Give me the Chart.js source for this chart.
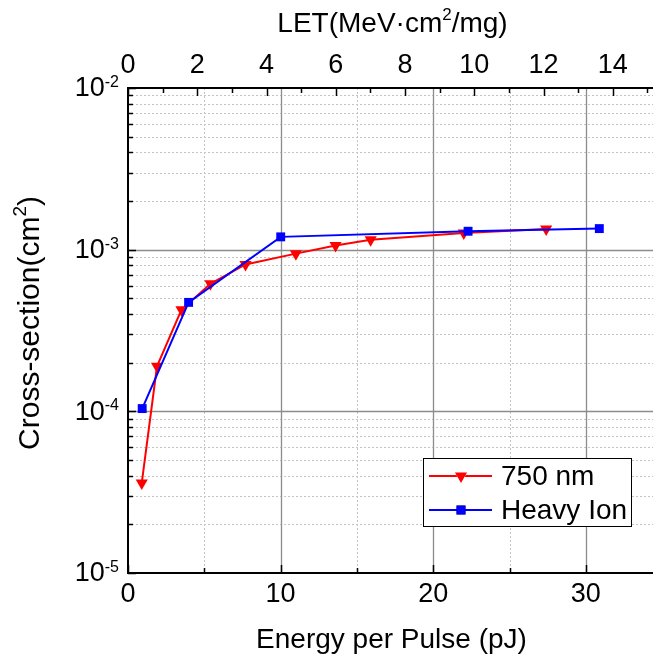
<!DOCTYPE html>
<html>
<head>
<meta charset="utf-8">
<script src="https://cdn.jsdelivr.net/npm/chart.js@4/dist/chart.umd.min.js"></script>
<style>
  html, body { margin: 0; padding: 0; background: #ffffff; }
  #wrap { width: 660px; height: 658px; position: relative; }
</style>
</head>
<body>
<div id="wrap"><canvas id="chart" width="660" height="658"></canvas></div>
<script>
// 750 nm laser: cross-section vs energy per pulse (pJ)
const laserEnergy = [0.9, 1.9, 3.5, 5.4, 7.7, 11.0, 13.6, 15.9, 22.0, 27.4];
const laserSigma  = [3.6e-5, 1.9e-4, 4.25e-4, 6.15e-4, 8.1e-4, 9.45e-4, 1.06e-3, 1.15e-3, 1.27e-3, 1.34e-3];

// Heavy ion: cross-section vs LET (MeV·cm²/mg)
const ionLET   = [0.41, 1.75, 4.41, 9.82, 13.61];
const ionSigma = [1.04e-4, 4.72e-4, 1.2e-3, 1.30e-3, 1.35e-3];

// Axis ranges and tick values
const energyRange = [0, 34.4];
const letRange    = [0, 15.16];
const sigmaRange  = [1e-5, 1e-2];
const energyLabels = [0, 10, 20, 30];
const energyMinor  = [5, 15, 25];
const letLabels    = [0, 2, 4, 6, 8, 10, 12, 14];
const letMinor     = [1, 3, 5, 7, 9, 11, 13, 15];
const decadeExps   = [-5, -4, -3, -2];

const FONT = '"Liberation Sans", Arial, Helvetica, sans-serif';
const RED = '#ff0000';
const BLUE = '#0000ff';

function font(px) { return px + 'px ' + FONT; }

// Draws text made of plain and superscript runs, centred on (cx, cy)
function richText(ctx, runs, cx, cy, size, angle) {
  const supSize = Math.round(size * 0.62);
  let total = 0;
  runs.forEach(r => {
    ctx.font = font(r.sup ? supSize : size);
    r.w = ctx.measureText(r.t).width;
    total += r.w;
  });
  ctx.save();
  ctx.translate(cx, cy);
  if (angle) ctx.rotate(angle);
  ctx.fillStyle = '#000';
  ctx.textBaseline = 'alphabetic';
  ctx.textAlign = 'left';
  let x = -total / 2;
  const base = size * 0.36;
  runs.forEach(r => {
    ctx.font = font(r.sup ? supSize : size);
    ctx.fillText(r.t, x, r.sup ? base - size * 0.42 : base);
    x += r.w;
  });
  ctx.restore();
}

const frame = {
  id: 'frame',
  beforeDatasetsDraw(chart) {
    const { ctx, chartArea: a, scales } = chart;
    const x = scales.x, y = scales.y;
    ctx.save();
    // minor dotted grid
    ctx.strokeStyle = '#c4c4c4';
    ctx.lineWidth = 1;
    ctx.setLineDash([2, 2]);
    ctx.beginPath();
    energyMinor.forEach(v => {
      const px = Math.round(x.getPixelForValue(v)) + 0.5;
      ctx.moveTo(px, a.top); ctx.lineTo(px, a.bottom);
    });
    decadeExps.slice(0, -1).forEach(e => {
      for (let m = 2; m <= 9; m++) {
        const py = Math.round(y.getPixelForValue(m * Math.pow(10, e))) + 0.5;
        ctx.moveTo(a.left, py); ctx.lineTo(a.right, py);
      }
    });
    ctx.stroke();
    // major solid grid
    ctx.setLineDash([]);
    ctx.strokeStyle = '#8c8c8c';
    ctx.lineWidth = 1.3;
    ctx.beginPath();
    energyLabels.slice(1).forEach(v => {
      const px = Math.round(x.getPixelForValue(v)) + 0.5;
      ctx.moveTo(px, a.top); ctx.lineTo(px, a.bottom);
    });
    decadeExps.slice(1, -1).forEach(e => {
      const py = Math.round(y.getPixelForValue(Math.pow(10, e))) + 0.5;
      ctx.moveTo(a.left, py); ctx.lineTo(a.right, py);
    });
    ctx.stroke();
    ctx.restore();
  },
  afterDatasetsDraw(chart) {
    const { ctx, chartArea: a, scales } = chart;
    const x = scales.x, x2 = scales.x2, y = scales.y;
    ctx.save();
    ctx.strokeStyle = '#000';
    ctx.lineWidth = 1.5;
    ctx.beginPath();
    // inward ticks: bottom (energy)
    energyLabels.forEach(v => {
      const px = Math.round(x.getPixelForValue(v)) + 0.5;
      ctx.moveTo(px, a.bottom); ctx.lineTo(px, a.bottom - 8);
    });
    energyMinor.forEach(v => {
      const px = Math.round(x.getPixelForValue(v)) + 0.5;
      ctx.moveTo(px, a.bottom); ctx.lineTo(px, a.bottom - 5);
    });
    // top (LET)
    letLabels.forEach(v => {
      const px = Math.round(x2.getPixelForValue(v)) + 0.5;
      ctx.moveTo(px, a.top); ctx.lineTo(px, a.top + 8);
    });
    letMinor.forEach(v => {
      const px = Math.round(x2.getPixelForValue(v)) + 0.5;
      ctx.moveTo(px, a.top); ctx.lineTo(px, a.top + 5);
    });
    // left (cross-section)
    decadeExps.forEach((e, i) => {
      const py = Math.round(y.getPixelForValue(Math.pow(10, e))) + 0.5;
      ctx.moveTo(a.left, py); ctx.lineTo(a.left + 8, py);
      if (i < decadeExps.length - 1) {
        for (let m = 2; m <= 9; m++) {
          const pm = Math.round(y.getPixelForValue(m * Math.pow(10, e))) + 0.5;
          ctx.moveTo(a.left, pm); ctx.lineTo(a.left + 5, pm);
        }
      }
    });
    ctx.stroke();
    // axis lines
    ctx.lineWidth = 2;
    ctx.beginPath();
    ctx.moveTo(a.left, a.top); ctx.lineTo(a.right, a.top);
    ctx.moveTo(a.left, a.top - 1); ctx.lineTo(a.left, a.bottom + 1);
    ctx.moveTo(a.left - 1, a.bottom); ctx.lineTo(a.right, a.bottom);
    ctx.stroke();
    ctx.restore();
  },
  afterDraw(chart) {
    const { ctx, chartArea: a, scales } = chart;
    const x = scales.x, x2 = scales.x2, y = scales.y;
    ctx.save();
    ctx.fillStyle = '#000';
    ctx.font = font(27);
    ctx.textAlign = 'center';
    ctx.textBaseline = 'middle';
    energyLabels.forEach(v => ctx.fillText(String(v), x.getPixelForValue(v), a.bottom + 22));
    letLabels.forEach(v => ctx.fillText(String(v), x2.getPixelForValue(v), a.top - 22));
    // decade labels 10^n
    decadeExps.forEach(e => {
      const py = y.getPixelForValue(Math.pow(10, e));
      ctx.font = font(16);
      ctx.textAlign = 'right';
      ctx.textBaseline = 'alphabetic';
      const sup = '-' + Math.abs(e);
      ctx.fillText(sup, a.left - 9, py - 1);
      const sw = ctx.measureText(sup).width;
      ctx.font = font(27);
      ctx.textBaseline = 'middle';
      ctx.fillText('10', a.left - 9 - sw, py + 1);
    });
    ctx.restore();

    // axis titles
    const cx = (a.left + a.right) / 2;
    richText(ctx, [{ t: 'Energy per Pulse (pJ)' }], cx + 1, 638, 28);
    richText(ctx, [{ t: 'LET(MeV\u00b7cm' }, { t: '2', sup: true }, { t: '/mg)' }], cx + 2, 22, 28);
    richText(ctx, [{ t: 'Cross-section(cm' }, { t: '2', sup: true }, { t: ')' }], 28, 323, 30, -Math.PI / 2);

    // legend
    const box = { l: 423, t: 458, r: 631, b: 526 };
    ctx.save();
    ctx.fillStyle = '#fff';
    ctx.fillRect(box.l, box.t, box.r - box.l, box.b - box.t);
    ctx.strokeStyle = '#000';
    ctx.lineWidth = 1;
    ctx.strokeRect(box.l + 0.5, box.t + 0.5, box.r - box.l, box.b - box.t);
    const rows = [
      { ds: chart.data.datasets[1], y: 476 },
      { ds: chart.data.datasets[0], y: 510 }
    ];
    rows.forEach(row => {
      const ds = row.ds;
      ctx.strokeStyle = ds.borderColor;
      ctx.lineWidth = ds.borderWidth;
      ctx.beginPath();
      ctx.moveTo(429, row.y); ctx.lineTo(492, row.y);
      ctx.stroke();
      Chart.helpers.drawPoint(ctx, {
        pointStyle: ds.pointStyle, rotation: ds.pointRotation || 0,
        radius: ds.pointRadius, borderWidth: 0
      }, 461, row.y);
      ctx.fillStyle = ds.backgroundColor;
      ctx.fill();
      ctx.fillStyle = '#000';
      ctx.font = font(28);
      ctx.textAlign = 'left';
      ctx.textBaseline = 'middle';
      ctx.fillText(ds.label, 501, row.y + 1);
    });
    ctx.restore();
  }
};

new Chart(document.getElementById('chart'), {
  type: 'line',
  data: {
    datasets: [
      {
        label: 'Heavy Ion',
        data: ionLET.map((v, i) => ({ x: v, y: ionSigma[i] })),
        xAxisID: 'x2', yAxisID: 'y',
        borderColor: BLUE, backgroundColor: BLUE, borderWidth: 2,
        pointStyle: 'rect', pointRadius: 6.3, pointBorderWidth: 0,
        pointBackgroundColor: BLUE, tension: 0, order: 0
      },
      {
        label: '750 nm',
        data: laserEnergy.map((v, i) => ({ x: v, y: laserSigma[i] })),
        xAxisID: 'x', yAxisID: 'y',
        borderColor: RED, backgroundColor: RED, borderWidth: 2,
        pointStyle: 'triangle', pointRotation: 180, pointRadius: 7, pointBorderWidth: 0,
        pointBackgroundColor: RED, tension: 0, order: 1
      }
    ]
  },
  options: {
    responsive: false,
    devicePixelRatio: 1,
    animation: false,
    layout: { padding: { left: 128, right: 0, top: 88, bottom: 85 } },
    plugins: { legend: { display: false }, tooltip: { enabled: false } },
    scales: {
      x:  { type: 'linear', display: false, min: energyRange[0], max: energyRange[1] },
      x2: { type: 'linear', display: false, min: letRange[0], max: letRange[1] },
      y:  { type: 'logarithmic', display: false, min: sigmaRange[0], max: sigmaRange[1] }
    }
  },
  plugins: [frame]
});
</script>
</body>
</html>
